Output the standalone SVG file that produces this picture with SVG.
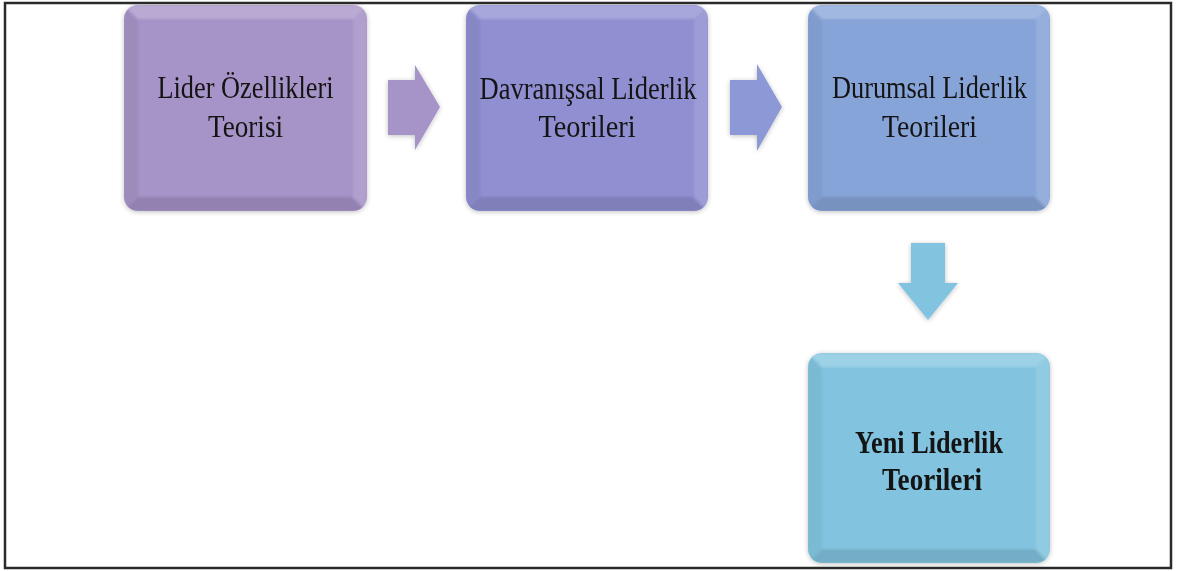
<svg xmlns="http://www.w3.org/2000/svg" width="1178" height="571" viewBox="0 0 1178 571">
  <defs>
    <filter id="glow" x="-10%" y="-10%" width="120%" height="120%">
      <feGaussianBlur in="SourceAlpha" stdDeviation="2.5"/>
      <feOffset dx="0" dy="1"/>
      <feComponentTransfer><feFuncA type="linear" slope="0.25"/></feComponentTransfer>
      <feMerge><feMergeNode/><feMergeNode in="SourceGraphic"/></feMerge>
    </filter>
    <filter id="soft" x="-5%" y="-5%" width="110%" height="110%">
      <feGaussianBlur stdDeviation="1.2"/>
    </filter>
    <clipPath id="c1"><rect x="124" y="5" width="243" height="206" rx="14"/></clipPath>
    <clipPath id="c2"><rect x="466" y="5" width="242" height="206" rx="14"/></clipPath>
    <clipPath id="c3"><rect x="808" y="5" width="242" height="206" rx="14"/></clipPath>
    <clipPath id="c4"><rect x="808" y="353" width="242" height="210" rx="14"/></clipPath>
  </defs>
  <style>
    .frame { fill: #ffffff; stroke: #2a2a2a; stroke-width: 2.5; }
    .hl { fill: #ffffff; opacity: 0.22; }
    .hr { fill: #ffffff; opacity: 0.12; }
    .sh { fill: #000000; opacity: 0.11; }
    .sl { fill: #000000; opacity: 0.05; }
    .lbl { font-family: "Liberation Serif", "Times New Roman", serif; font-size: 32px; fill: #141414; text-anchor: middle; }
    .bold { font-weight: bold; }
    .p1 { fill: #A693C7; }
    .p2 { fill: #8F8FD1; }
    .p3 { fill: #87A4D8; }
    .p4 { fill: #82C4DF; }
    .a2 { fill: #8D99D6; }
  </style>

  <rect class="frame" x="5" y="3" width="1166" height="565"/>

  <g id="connectors">
    <path class="p1" filter="url(#glow)" d="M388,80 L415,80 L415,65 L440,107 L415,150 L415,135 L388,135 Z"/>
    <path class="a2" filter="url(#glow)" d="M730,80 L757,80 L757,64 L782,107 L757,151 L757,135 L730,135 Z"/>
    <path class="p4" filter="url(#glow)" d="M911,243 L945,243 L945,283 L958,283 L928,320 L898,283 L911,283 Z"/>
  </g>

  <g id="node1">
    <rect class="p1" filter="url(#glow)" x="124" y="5" width="243" height="206" rx="14"/>
    <g clip-path="url(#c1)" filter="url(#soft)">
      <polygon class="hl" points="124,5 367,5 353,19 138,19"/>
      <polygon class="sh" points="124,211 367,211 353,197 138,197"/>
      <polygon class="sl" points="124,5 138,19 138,197 124,211"/>
      <polygon class="hr" points="367,5 353,19 353,197 367,211"/>
    </g>
    <text class="lbl" x="245.5" y="98" textLength="176" lengthAdjust="spacingAndGlyphs">Lider Özellikleri</text>
    <text class="lbl" x="245.5" y="137" textLength="75" lengthAdjust="spacingAndGlyphs">Teorisi</text>
  </g>

  <g id="node2">
    <rect class="p2" filter="url(#glow)" x="466" y="5" width="242" height="206" rx="14"/>
    <g clip-path="url(#c2)" filter="url(#soft)">
      <polygon class="hl" points="466,5 708,5 694,19 480,19"/>
      <polygon class="sh" points="466,211 708,211 694,197 480,197"/>
      <polygon class="sl" points="466,5 480,19 480,197 466,211"/>
      <polygon class="hr" points="708,5 694,19 694,197 708,211"/>
    </g>
    <text class="lbl" x="588" y="99" textLength="217" lengthAdjust="spacingAndGlyphs">Davranışsal Liderlik</text>
    <text class="lbl" x="587" y="137" textLength="97" lengthAdjust="spacingAndGlyphs">Teorileri</text>
  </g>

  <g id="node3">
    <rect class="p3" filter="url(#glow)" x="808" y="5" width="242" height="206" rx="14"/>
    <g clip-path="url(#c3)" filter="url(#soft)">
      <polygon class="hl" points="808,5 1050,5 1036,19 822,19"/>
      <polygon class="sh" points="808,211 1050,211 1036,197 822,197"/>
      <polygon class="sl" points="808,5 822,19 822,197 808,211"/>
      <polygon class="hr" points="1050,5 1036,19 1036,197 1050,211"/>
    </g>
    <text class="lbl" x="929.5" y="98" textLength="195" lengthAdjust="spacingAndGlyphs">Durumsal Liderlik</text>
    <text class="lbl" x="929.5" y="137" textLength="95" lengthAdjust="spacingAndGlyphs">Teorileri</text>
  </g>

  <g id="node4">
    <rect class="p4" filter="url(#glow)" x="808" y="353" width="242" height="210" rx="14"/>
    <g clip-path="url(#c4)" filter="url(#soft)">
      <polygon class="hl" points="808,353 1050,353 1036,367 822,367"/>
      <polygon class="sh" points="808,563 1050,563 1036,549 822,549"/>
      <polygon class="sl" points="808,353 822,367 822,549 808,563"/>
      <polygon class="hr" points="1050,353 1036,367 1036,549 1050,563"/>
    </g>
    <text class="lbl bold" x="929" y="453" textLength="148" lengthAdjust="spacingAndGlyphs">Yeni Liderlik</text>
    <text class="lbl bold" x="932" y="490" textLength="100" lengthAdjust="spacingAndGlyphs">Teorileri</text>
  </g>
</svg>
